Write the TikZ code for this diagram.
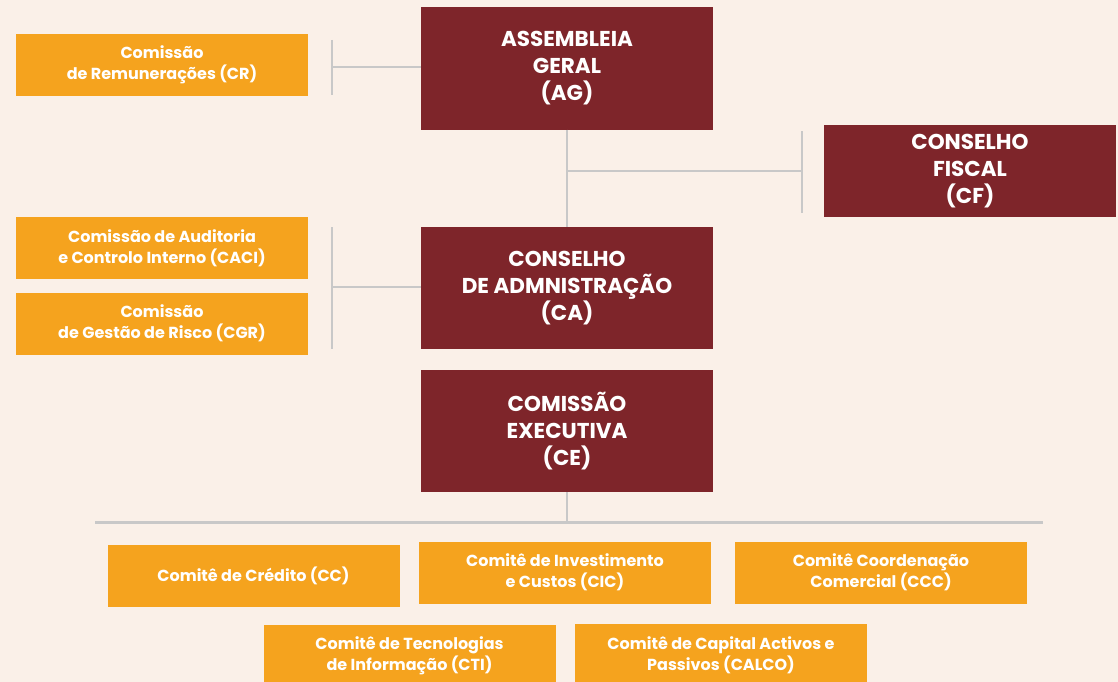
\documentclass[tikz,border=0pt]{standalone}
\usepackage{fontspec}
\setmainfont{Poppins}
\definecolor{bgcream}{HTML}{FAF0E8}
\definecolor{maroon}{HTML}{7E252A}
\definecolor{amber}{HTML}{F5A31E}
\definecolor{rule}{HTML}{C8C8C8}
\tikzset{
  orgbox/.style={fill=maroon,text=white,minimum width=292pt,minimum height=122pt,
    align=center,inner sep=0pt,font=\fontsize{21.5}{27}\selectfont\bfseries},
  subbox/.style={fill=amber,text=white,minimum width=292pt,minimum height=62pt,
    align=center,inner sep=0pt,font=\fontsize{16}{21}\selectfont\bfseries},
  link/.style={draw=rule,line width=2pt}
}
\begin{document}
\begin{tikzpicture}[line cap=butt,x=1pt,y=-1pt]
		\fill[bgcream] (0,0) rectangle (1118,682);
		\useasboundingbox (0,0) rectangle (1118,682);
		% main bodies
		\node[orgbox] (ag) at (567,68.5) {ASSEMBLEIA\\GERAL\\(AG)};
		\node[orgbox] (ca) at (567,288) {CONSELHO\\DE ADMNISTRAÇÃO\\(CA)};
		\node[orgbox] (ce) at (567,431) {COMISSÃO\\EXECUTIVA\\(CE)};
		\node[orgbox,minimum height=92pt] (cf) at (970,171) {CONSELHO\\FISCAL\\(CF)};
		% commissions
		\node[subbox] (cr) at (162,65) {Comissão\\de Remunerações (CR)};
		\node[subbox] (caci) at (162,248) {Comissão de Auditoria\\e Controlo Interno (CACI)};
		\node[subbox] (cgr) at (162,323.5) {Comissão\\de Gestão de Risco (CGR)};
		% committees
		\node[subbox] (cc) at (253.5,575.5) {Comitê de Crédito (CC)};
		\node[subbox] (cic) at (565,572.5) {Comitê de Investimento\\e Custos (CIC)};
		\node[subbox] (ccc) at (881,572.5) {Comitê Coordenação\\Comercial (CCC)};
		\node[subbox] (cti) at (409.5,656) {Comitê de Tecnologias\\de Informação (CTI)};
		\node[subbox] (calco) at (721,655) {Comitê de Capital Activos e\\Passivos (CALCO)};
		% connectors
		\coordinate (crbar) at (332,67);
		\draw[link] (332,40) -- (332,95);
		\draw[link] (crbar) -- (crbar -| ag.west);
		\coordinate (cabar) at (332,287);
		\draw[link] (332,227) -- (332,349);
		\draw[link] (cabar) -- (cabar -| ca.west);
		\draw[link] (ag.south) -- (ca.north);
		\coordinate (cfjoin) at (567,171);
		\coordinate (cfbar) at (802,171);
		\draw[link] (cfjoin) -- (cfbar);
		\draw[link] (802,131) -- (802,213);
		\coordinate (cebus) at (567,522);
		\draw[link] (ce.south) -- (cebus);
		\draw[link,line width=3pt] (95,522) -- (1043,522);
	\end{tikzpicture}
\end{document}
